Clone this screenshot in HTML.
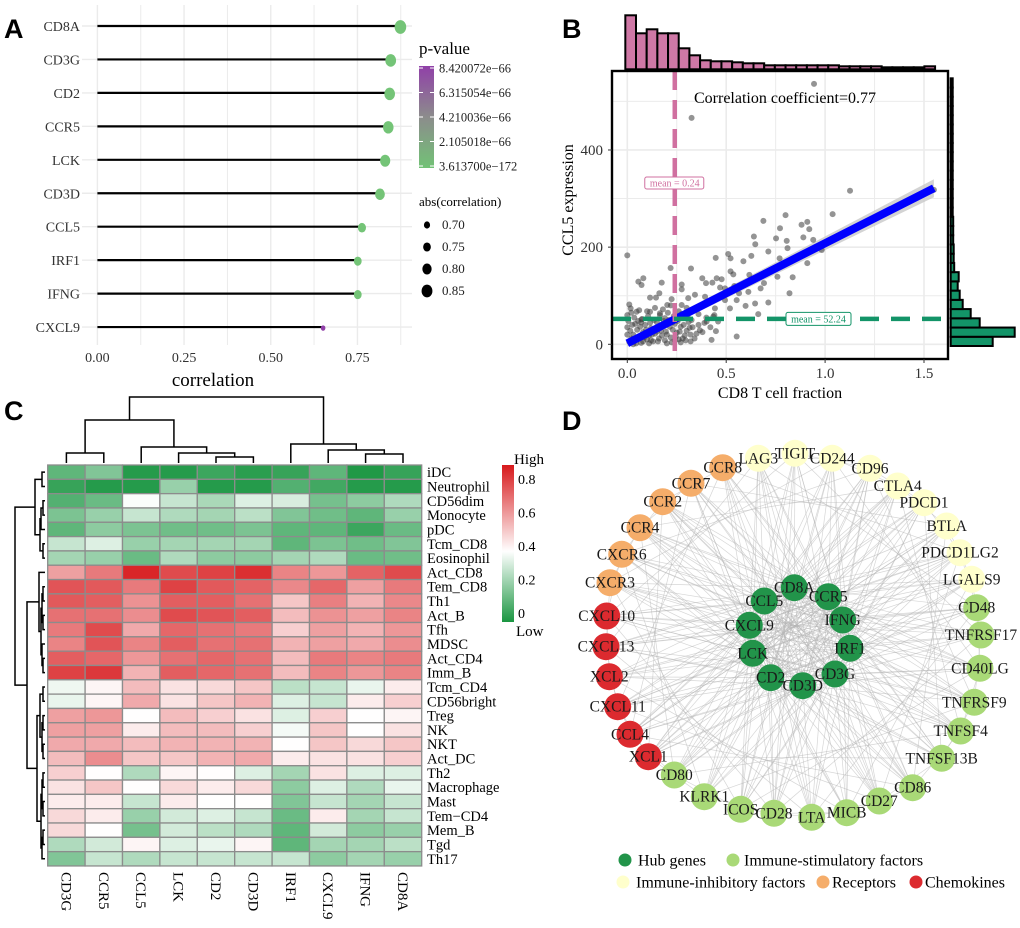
<!DOCTYPE html>
<html><head><meta charset="utf-8"><style>
html,body{margin:0;padding:0;background:#fff}
svg{display:block}
text{font-family:"Liberation Serif",serif}
.pl{font-family:"Liberation Sans",sans-serif;font-weight:bold;font-size:27px}
</style></head><body>
<svg id="fig" width="1020" height="928" viewBox="0 0 1020 928" xmlns="http://www.w3.org/2000/svg">
<defs>
<linearGradient id="pgrad" x1="0" y1="0" x2="0" y2="1"><stop offset="0" stop-color="#9040a8"/><stop offset="0.5" stop-color="#8c8c8c"/><stop offset="1" stop-color="#72c276"/></linearGradient>
<linearGradient id="hgrad" x1="0" y1="1" x2="0" y2="0"><stop offset="0" stop-color="#1a9641"/><stop offset="0.45" stop-color="#ffffff"/><stop offset="1" stop-color="#d7191c"/></linearGradient>
</defs>
<text class="pl" x="4" y="38">A</text>
<text class="pl" x="562" y="38">B</text>
<text class="pl" x="4" y="420">C</text>
<text class="pl" x="562" y="430">D</text>
<g id="pa"></g>
<g id="pb"></g>
<g id="pc"></g>
<g id="pd"></g>
</svg>
<script>
// ---------- Panel A data ----------
const aGenes=["CD8A","CD3G","CD2","CCR5","LCK","CD3D","CCL5","IRF1","IFNG","CXCL9"];
const aCorr=[0.874,0.846,0.843,0.839,0.830,0.815,0.763,0.751,0.751,0.651];
const aPurple=[false,false,false,false,false,false,false,false,false,true];
const aTicks=[0,0.25,0.5,0.75];
const pLabels=["8.420072e\u221266","6.315054e\u221266","4.210036e\u221266","2.105018e\u221266","3.613700e\u2212172"];
const sizeVals=[0.70,0.75,0.80,0.85];
// ---------- Panel B data ----------
const bX=[0.944,0.325,1.126,1.038,0.80,0.688,0.91,0.772,0.881,0.92,0.64,0.752,0.806,0.89,0.94,0.647,0.81,0.983,0.713,0,0.51,0.627,0.447,0.522,0.587,0.77,0.91,0.219,0.322,0.522,0.536,0.617,0.836,0.759,0.081,0.056,0.174,0.379,0.452,0.477,0.398,0.43,0.072,0.275,0.469,0.541,0.691,0.674,0.494,0.275,0.82,0.162,0.565,0.612,0.342,0.115,0.145,0.224,0.308,0.393,0.494,0.553,0.713,0.646,0.01,0.202,0.275,0.367,0.443,0.519,0.598,0.017,0.047,0.115,0.165,0,0.662,0.435,0.459,0.072,0.325,0.401,0.553,0.426,0.448,0.367,
0.01,0.02,0.03,0.04,0.05,0.06,0.07,0.08,0.09,0.1,0.11,0.12,0.13,0.14,0.15,0.16,0.17,0.18,0.19,0.2,0.21,0.22,0.23,0.24,0.25,0.26,0.27,0.28,0.29,0.3,0.31,0.32,0.33,0.34,0.36,0.38,0,0,0.005,0.015,0.025,0.035,0.045,0.055,0.065,0.075,0.085,0.095,0.105,0.115,0.125,0.135,0.145,0.155,0.165,0.175,0.185,0.195,0.205,0.215,0.225,0.235,0.245,0.255,0.265,0.275,0.285,0.295,0.305,0.315,0.02,0.06,0.1,0.14,0.18,0.22,0.26,0.3,0.04,0.08,0.12,0.16,0.2,0.24,0.28,0.32,0.36,0.4,0.42,0.44,0.03,0.07,0.11,0.15,0.19,0.23,0.27,0.31,0.35,0.39,1.55];
const bY=[536,466,316,268,266,254,252,239,246,237,222,218,213,220,215,206,198,194,191,183,186,182,178,177,171,177,167,157,156,150,144,143,138,139,136,129,127,136,136,134,126,127,122,123,117,120,126,115,115,113,105,105,105,108,102,96,96,93,95,98,91,91,86,84,82,81,81,78,74,74,79,74,67,67,64,60,62,57,47,51,50,47,16,9,27,29,
5,12,20,8,30,15,3,25,40,10,18,33,6,22,45,12,28,38,8,20,50,14,30,42,24,10,36,55,18,28,46,20,35,12,40,25,35,20,48,28,40,55,2,48,36,52,14,30,58,44,20,50,32,6,60,18,48,26,65,36,4,58,16,48,26,62,40,8,56,34,65,70,68,75,72,80,68,75,42,6,8,36,2,8,12,6,62,55,35,60,0,45,2,26,54,46,4,64,22,44,318];
const bXTicks=[0,0.5,1,1.5];
const bYTicks=[0,200,400];
const fitIntercept=2, fitSlope=206;
const meanX=0.24, meanY=52.24;
const topHistStart=-0.01, topHistWidth=0.054;
const topHist=[54,36,40,36,36,21,14,9,8,8,7,6,6,4,4,4,4,4,4,4,3,3,3,3,2,2,2,2,3];
const rightHistStart=-3.5, rightHistWidth=19;
const rightHist=[42,64,29,20,12,9,7,8,3.5,3,3,2.5,2.5,2.5,2,2,2,2,2,2,2,2,2,2,2,2,2,2,2];
// ---------- Panel C data ----------
const cCols=["CD3G","CCR5","CCL5","LCK","CD2","CD3D","IRF1","CXCL9","IFNG","CD8A"];
const cRows=["iDC","Neutrophil","CD56dim","Monocyte","pDC","Tcm_CD8","Eosinophil","Act_CD8","Tem_CD8","Th1","Act_B","Tfh","MDSC","Act_CD4","Imm_B","Tcm_CD4","CD56bright","Treg","NK","NKT","Act_DC","Th2","Macrophage","Mast","Tem\u2212CD4","Mem_B","Tgd","Th17"];
const cVals=[
[0.12,0.18,0.02,0.02,0.06,0.03,0.05,0.12,0.01,0.05],
[0.05,0.02,0.02,0.22,0.02,0.02,0.10,0.07,0.02,0.02],
[0.10,0.14,0.39,0.30,0.25,0.34,0.33,0.16,0.20,0.26],
[0.17,0.22,0.30,0.26,0.24,0.28,0.18,0.15,0.12,0.22],
[0.12,0.20,0.17,0.15,0.15,0.17,0.12,0.12,0.06,0.14],
[0.30,0.34,0.22,0.24,0.24,0.24,0.12,0.17,0.15,0.18],
[0.24,0.22,0.14,0.26,0.20,0.20,0.24,0.26,0.14,0.15],
[0.60,0.68,0.86,0.78,0.80,0.84,0.66,0.62,0.73,0.78],
[0.76,0.75,0.68,0.80,0.75,0.73,0.65,0.72,0.60,0.68],
[0.75,0.74,0.63,0.74,0.74,0.70,0.52,0.67,0.56,0.65],
[0.70,0.70,0.64,0.78,0.76,0.74,0.54,0.63,0.60,0.66],
[0.68,0.78,0.58,0.72,0.70,0.68,0.50,0.60,0.56,0.62],
[0.66,0.76,0.66,0.74,0.70,0.70,0.56,0.60,0.58,0.64],
[0.74,0.72,0.62,0.70,0.72,0.70,0.54,0.68,0.66,0.68],
[0.80,0.82,0.56,0.74,0.72,0.70,0.54,0.66,0.62,0.66],
[0.37,0.42,0.54,0.46,0.48,0.52,0.28,0.30,0.36,0.44],
[0.36,0.42,0.58,0.46,0.52,0.56,0.34,0.30,0.44,0.50],
[0.60,0.62,0.40,0.54,0.50,0.46,0.34,0.50,0.40,0.42],
[0.60,0.60,0.44,0.54,0.54,0.50,0.38,0.52,0.40,0.46],
[0.58,0.58,0.54,0.56,0.56,0.56,0.40,0.52,0.48,0.52],
[0.54,0.64,0.52,0.52,0.56,0.58,0.44,0.46,0.46,0.50],
[0.50,0.40,0.26,0.42,0.40,0.34,0.24,0.46,0.34,0.34],
[0.46,0.52,0.40,0.48,0.44,0.48,0.20,0.34,0.26,0.36],
[0.44,0.44,0.30,0.44,0.40,0.40,0.18,0.30,0.24,0.30],
[0.48,0.44,0.22,0.32,0.34,0.30,0.14,0.44,0.24,0.30],
[0.48,0.40,0.16,0.32,0.28,0.26,0.12,0.32,0.20,0.22],
[0.26,0.32,0.42,0.34,0.36,0.42,0.12,0.24,0.24,0.28],
[0.18,0.30,0.26,0.30,0.30,0.30,0.30,0.20,0.24,0.22]];
const cLegendTicks=[0,0.2,0.4,0.6,0.8];
const colTreeFull=[[[0,1,10],[2,[3,[4,5,6],10],16],43],[6,[7,[8,9,9],13],19],66];
const rowTree=[[[0,1,3],[[[2,3,2],4,4],[5,6,2],5],10],[[7,[[[8,9,2],[10,11,2],3],[12,[13,14,2],3],4],6],[[[15,16,2],[[17,18,2],[19,20,2],3],5],[[[21,22,2],[23,24,2],3],[[25,26,2],27,3],4],8],18],30];
// ---------- Panel D data ----------
const dNames=["CD8A","CCR5","IFNG","IRF1","CD3G","CD3D","CD2","LCK","CXCL9","CCL5",
"LAG3","TIGIT","CD244","CD96","CTLA4","PDCD1","BTLA","PDCD1LG2","LGALS9",
"CD48","TNFRSF17","CD40LG","TNFRSF9","TNFSF4","TNFSF13B","CD86","CD27","MICB","LTA","CD28","ICOS","KLRK1","CD80",
"XCL1","CCL4","CXCL11","XCL2","CXCL13","CXCL10",
"CXCR3","CXCR6","CCR4","CCR2","CCR7","CCR8"];
const dX=[794.3,828.3,842.7,850,835,802.7,770.7,752.7,749.3,764.3,
758.3,795,832.3,870,897.7,924,946.7,960,971.7,
976.7,981,980,974.3,960.7,941.7,912.7,879.3,846.7,811.7,774,740.7,704.3,674.3,
648.3,630,617.7,609.3,606,606.7,
610,621.7,640,662.7,691,722.7];
const dY=[587.7,596.7,620,648.3,674,685.7,677.7,653.3,625.3,601,
458.3,453.3,458.3,468.3,486,502.7,526,552.7,579.3,
607.7,635,668.3,702.3,731,758.3,787.7,801,812.7,817.3,813.3,809.3,796.7,775,
756.7,734.3,706.7,676.7,646.7,616,
582.7,554.3,527.7,501.7,483.3,467.7];
const dGroup=[0,0,0,0,0,0,0,0,0,0, 2,2,2,2,2,2,2,2,2, 1,1,1,1,1,1,1,1,1,1,1,1,1,1, 4,4,4,4,4,4, 3,3,3,3,3,3];
const groupColors=["#22944a","#a9d977","#ffffcc","#f5ad6a","#dc2a2f"];
const groupNames=["Hub genes","Immune-stimulatory factors","Immune-inhibitory factors","Receptors","Chemokines"];

const NS="http://www.w3.org/2000/svg";
function mk(parent,tag,attrs,txt){const e=document.createElementNS(NS,tag);for(const k in attrs)e.setAttribute(k,attrs[k]);if(txt!==undefined)e.textContent=txt;parent.appendChild(e);return e;}

// ================= Panel A =================
(function(){
const g=document.getElementById('pa');
const xA=v=>97.4+v*346.7, yA=i=>26+i*33.45;
for(let k=0;k<=7;k++){const l=mk(g,'line',{x1:xA(k*0.125),x2:xA(k*0.125),y1:5,y2:345,stroke:'#ebebeb','stroke-width':k%2?1:1.4});

}
aGenes.forEach((n,i)=>{
 const gl=mk(g,'line',{x1:82,x2:412,y1:yA(i),y2:yA(i),stroke:'#ebebeb','stroke-width':1.4});
 
 
 const t=mk(g,'text',{x:80,y:yA(i)+5,'text-anchor':'end','font-size':14,fill:'#333'},n);
 
 
 const s=mk(g,'line',{x1:xA(0),x2:xA(aCorr[i]),y1:yA(i),y2:yA(i),stroke:'#000','stroke-width':2.2});
 
 
 const r=2.5+(aCorr[i]-0.65)*17;
 const c=mk(g,'ellipse',{cx:xA(aCorr[i]),cy:yA(i)+1,rx:r*0.92,ry:r*1.08,fill:aPurple[i]?'#9040a8':'#74c477'});
 
 
});
aTicks.forEach(v=>{const t=mk(g,'text',{x:xA(v),y:362,'text-anchor':'middle','font-size':14,fill:'#333'},v.toFixed(2));

});
const xt=mk(g,'text',{x:213,y:386,'text-anchor':'middle','font-size':19,fill:'#000'},'correlation');


const lt=mk(g,'text',{x:419,y:54,'font-size':17,fill:'#000'},'p-value');


const cb=mk(g,'rect',{x:419,y:66,width:15,height:102,fill:'url(#pgrad)'});


pLabels.forEach((s,i)=>{const yy=68+i*24.5;
 mk(g,'line',{x1:419,x2:423,y1:yy,y2:yy,stroke:'#fff'});mk(g,'line',{x1:430,x2:434,y1:yy,y2:yy,stroke:'#fff'});
 const t=mk(g,'text',{x:439,y:yy+4.5,'font-size':12.5,fill:'#222'},s);
 
 });
const st=mk(g,'text',{x:419,y:206,'font-size':13,fill:'#000'},'abs(correlation)');


sizeVals.forEach((v,i)=>{const yy=225+i*22;const r=2.5+(v-0.65)*17;
 const c=mk(g,'ellipse',{cx:427,cy:yy,rx:r*0.92,ry:r*1.08,fill:'#000'});
 
 
 const t=mk(g,'text',{x:442,y:yy+4,'font-size':13,fill:'#222'},v.toFixed(2));
 
 });
})();

// ================= Panel B =================
(function(){
const g=document.getElementById('pb');
const xB=v=>627.3+v*197.8, yB=v=>344.3-v*0.4858;
const L=612,R=948,T=71,Bt=359;
mk(g,'rect',{x:L,y:T,width:R-L,height:Bt-T,fill:'#fff'});
for(let k=0;k<=6;k++){const l=mk(g,'line',{x1:xB(k*0.25),x2:xB(k*0.25),y1:T,y2:Bt,stroke:'#ebebeb','stroke-width':k%2?1:1.6});

}
for(let k=0;k<=5;k++){const l=mk(g,'line',{x1:L,x2:R,y1:yB(k*100),y2:yB(k*100),stroke:'#ebebeb','stroke-width':k%2?1:1.6});

}
const x0=0,x1=1.55;
const band=`M${xB(x0)},${yB(fitIntercept+fitSlope*x0)-3} L${xB(x1)},${yB(fitIntercept+fitSlope*x1)-9} L${xB(x1)},${yB(fitIntercept+fitSlope*x1)+9} L${xB(x0)},${yB(fitIntercept+fitSlope*x0)+3} Z`;
const bd=mk(g,'path',{d:band,fill:'#c8c8c8',opacity:0.8});


bX.forEach((v,i)=>{const c=mk(g,'circle',{cx:xB(v),cy:yB(bY[i]),r:3,fill:'#3c3c3c','fill-opacity':0.55});

});
const fl=mk(g,'line',{x1:xB(x0),y1:yB(fitIntercept),x2:xB(x1),y2:yB(fitIntercept+fitSlope*x1),stroke:'#0000ff','stroke-width':8});


const vm=mk(g,'line',{x1:xB(meanX),x2:xB(meanX),y1:T,y2:Bt,stroke:'#d070a0','stroke-width':4.5,'stroke-dasharray':'19,10'});


const hm=mk(g,'line',{x1:L,x2:R,y1:yB(meanY),y2:yB(meanY),stroke:'#139468','stroke-width':4.5,'stroke-dasharray':'19,12'});


const bx1=mk(g,'rect',{x:xB(meanX)-30,y:177,width:59,height:12,rx:2,fill:'#fff',stroke:'#d070a0','stroke-width':1});


mk(g,'text',{x:xB(meanX),y:186.5,'text-anchor':'middle','font-size':10,fill:'#d070a0'},'mean  = '+meanX.toFixed(2));
const bx2=mk(g,'rect',{x:786,y:yB(meanY)-6.5,width:65,height:13,rx:2,fill:'#fff',stroke:'#139468','stroke-width':1});


mk(g,'text',{x:818.5,y:yB(meanY)+3.5,'text-anchor':'middle','font-size':10,fill:'#139468'},'mean  = '+meanY.toFixed(2));
const ct=mk(g,'text',{x:785,y:103,'text-anchor':'middle','font-size':16,fill:'#000'},'Correlation coefficient=0.77');


const fr=mk(g,'rect',{x:L,y:T,width:R-L,height:Bt-T,fill:'none',stroke:'#000','stroke-width':2.4});


bXTicks.forEach(v=>{mk(g,'line',{x1:xB(v),x2:xB(v),y1:Bt,y2:Bt+4,stroke:'#333'});
 const t=mk(g,'text',{x:xB(v),y:378,'text-anchor':'middle','font-size':15,fill:'#333'},v.toFixed(1));
 
 });
bYTicks.forEach(v=>{mk(g,'line',{x1:L-4,x2:L,y1:yB(v),y2:yB(v),stroke:'#333'});
 const t=mk(g,'text',{x:603,y:yB(v)+5,'text-anchor':'end','font-size':15,fill:'#333'},String(v));
 
 });
const xt=mk(g,'text',{x:780,y:398,'text-anchor':'middle','font-size':16,fill:'#000'},'CD8 T cell fraction');


const yt=mk(g,'text',{x:0,y:0,'text-anchor':'middle','font-size':16,fill:'#000',transform:'translate(573,200) rotate(-90)'},'CCL5 expression');


topHist.forEach((h,i)=>{const xa=xB(topHistStart+i*topHistWidth),xb=xB(topHistStart+(i+1)*topHistWidth);
 const r=mk(g,'rect',{x:xa,y:69.3-h,width:xb-xa,height:h,fill:'#cf78a6',stroke:'#000','stroke-width':2});
 
 });
rightHist.forEach((w,i)=>{const ya=yB(rightHistStart+i*rightHistWidth),yb=yB(rightHistStart+(i+1)*rightHistWidth);
 const r=mk(g,'rect',{x:950.7,y:yb,width:w,height:ya-yb,fill:'#139468',stroke:'#000','stroke-width':2});
 
 });
})();

// ================= Panel C =================
(function(){
const g=document.getElementById('pc');
const HL=47.7,HT=465,CW=37.4,RH=14.32;
function col(v){const t=Math.max(0,Math.min(1,v/0.886));const m=0.45;
 const G=[26,150,65],W=[255,255,255],Rr=[215,25,28];let a,b,f;
 if(t<m){a=G;b=W;f=t/m;}else{a=W;b=Rr;f=(t-m)/(1-m);}
 return 'rgb('+a.map((c,i)=>Math.round(c+(b[i]-c)*f)).join(',')+')';}
cVals.forEach((row,r)=>row.forEach((v,c)=>{
 const e=mk(g,'rect',{x:HL+c*CW,y:HT+r*RH,width:CW,height:RH,fill:col(v),stroke:'#8c8c8c','stroke-width':1.3});
 
 }));
cRows.forEach((n,r)=>{const t=mk(g,'text',{x:427,y:HT+r*RH+RH/2+5,'font-size':14.5,fill:'#000'},n);
 
 });
cCols.forEach((n,c)=>{const cx=HL+c*CW+CW/2;
 const t=mk(g,'text',{x:0,y:0,'font-size':15,fill:'#000',transform:`translate(${cx-5},872) rotate(90)`},n);
 
 });
function dendro(node,leafPos,depthPos,horizontal){
 if(typeof node==='number')return {p:leafPos(node),d:0};
 const a=dendro(node[0],leafPos,depthPos,horizontal),b=dendro(node[1],leafPos,depthPos,horizontal),h=node[2];
 const dh=depthPos(h),da=depthPos(a.d),db=depthPos(b.d);
 let d;
 if(horizontal) d=`M${da},${a.p}H${dh}V${b.p}H${db}`;
 else d=`M${a.p},${da}V${dh}H${b.p}V${db}`;
 const e=mk(g,'path',{d:d,fill:'none',stroke:'#000','stroke-width':1.5});
 
 
 return {p:(a.p+b.p)/2,d:h};}
dendro(colTreeFull,i=>HL+i*CW+CW/2,d=>463-d,false);
dendro(rowTree,i=>HT+i*RH+RH/2,d=>45-d,true);
const lb=mk(g,'rect',{x:502,y:465,width:12,height:157,fill:'url(#hgrad)'});


mk(g,'text',{x:514,y:464,'font-size':15,fill:'#000'},'High');
mk(g,'text',{x:516,y:636,'font-size':15,fill:'#000'},'Low');
cLegendTicks.forEach(v=>{const yy=613-v*167.5;
 const t=mk(g,'text',{x:518,y:yy+5,'font-size':14,fill:'#000'},String(v));
 
 });
})();

// ================= Panel D =================
(function(){
const g=document.getElementById('pd');
const eg=mk(g,'g',{stroke:'#b4b4b4','stroke-width':0.7,'stroke-opacity':0.55});


const N=dNames.length;
for(let i=0;i<N;i++)for(let j=i+1;j<N;j++){
 const hub=dGroup[i]===0||dGroup[j]===0;
 const link=hub? ((i*7+j*3)%4!==0) : ((i*13+j*5)%9===0 || Math.abs(i-j)===2);
 if(!link)continue;
 mk(eg,'line',{x1:dX[i],y1:dY[i],x2:dX[j],y2:dY[j]});}
dNames.forEach((n,i)=>{
 const c=mk(g,'circle',{cx:dX[i],cy:dY[i],r:13.5,fill:groupColors[dGroup[i]]});
 
 
 const t=mk(g,'text',{x:dX[i],y:dY[i]+5,'text-anchor':'middle','font-size':15.5,fill:'#1a1a1a'},n);
 
 });
const leg=[[625,860,0,638],[733,860,1,744],[623,882,2,636],[823,882,3,832],[916,882,4,925]];
leg.forEach(a=>{const c=mk(g,'circle',{cx:a[0],cy:a[1],r:6.5,fill:groupColors[a[2]]});
 
 
 const t=mk(g,'text',{x:a[3],y:a[1]+5.5,'font-size':16,fill:'#000'},groupNames[a[2]]);
 
 });
})();
</script>
</body></html>
